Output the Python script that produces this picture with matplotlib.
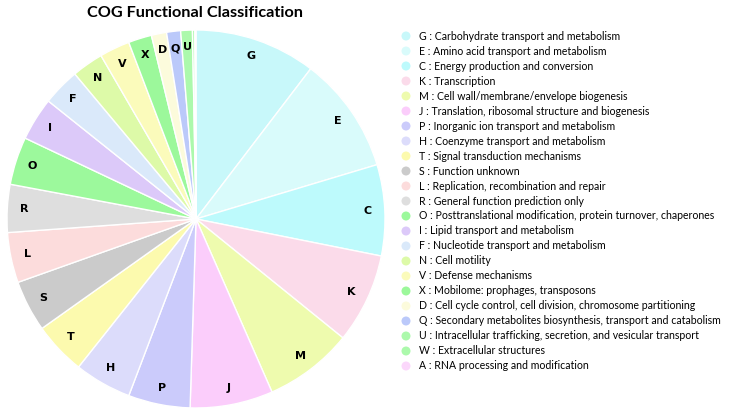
import matplotlib
matplotlib.use("Agg")
import matplotlib.pyplot as plt

# datos (numero de genes por categoria COG)
codes = ["G", "E", "C", "K", "M", "J", "P", "H", "T", "S", "L", "R",
         "O", "I", "F", "N", "V", "X", "D", "Q", "U", "W", "A"]
names = ["Carbohydrate transport and metabolism",
         "Amino acid transport and metabolism",
         "Energy production and conversion",
         "Transcription",
         "Cell wall/membrane/envelope biogenesis",
         "Translation, ribosomal structure and biogenesis",
         "Inorganic ion transport and metabolism",
         "Coenzyme transport and metabolism",
         "Signal transduction mechanisms",
         "Function unknown",
         "Replication, recombination and repair",
         "General function prediction only",
         "Posttranslational modification, protein turnover, chaperones",
         "Lipid transport and metabolism",
         "Nucleotide transport and metabolism",
         "Cell motility",
         "Defense mechanisms",
         "Mobilome: prophages, transposons",
         "Cell cycle control, cell division, chromosome partitioning",
         "Secondary metabolites biosynthesis, transport and catabolism",
         "Intracellular trafficking, secretion, and vesicular transport",
         "Extracellular structures",
         "RNA processing and modification"]
counts = [104, 100, 78, 77, 76, 71, 53, 49, 45, 44, 43, 41,
          41, 37, 32, 27, 26, 20, 13, 12, 10, 2, 1]
colors = ["#c8f8fa", "#d9fbfb", "#bdfafc", "#fbdbea", "#eefbae", "#fbcdfb",
          "#cbcbfb", "#dcdcfb", "#fcfaae", "#cbcbcb", "#fcdcdc", "#dedede",
          "#9cf99c", "#dcc9f9", "#dae9fa", "#ddfaa8", "#fbfbbb", "#9cf89b",
          "#fcfbdc", "#bbc9fa", "#acf9ac", "#acf9ac", "#fbd7fb"]

# etiquetas dentro del pie solo para sectores grandes
pie_labels = [c if n >= 10 else "" for c, n in zip(codes, counts)]

fig = plt.figure(figsize=(7.3, 4.17), dpi=100)
ax = fig.add_axes([0.0096, 0.0216, 0.5178, 0.9065])

wedges, texts = ax.pie(counts, labels=pie_labels, colors=colors,
                       startangle=90, counterclock=False,
                       labeldistance=0.91,
                       wedgeprops=dict(edgecolor="white", linewidth=1))
for t in texts:
    t.set_fontsize(8)
    t.set_fontweight("bold")
    t.set_fontfamily("DejaVu Sans")
    t.set_ha("center")
    t.set_va("center")
ax.set_xlim(-1, 1)
ax.set_ylim(-1, 1)
ax.set_aspect("equal")

fig.text(0.267, 0.97, "COG Functional Classification", ha="center", va="center",
         fontsize=11.7, fontweight="bold", family="Lato")

# leyenda hecha a mano: una fila por categoria, 15 px entre filas
lax = fig.add_axes([400 / 730, 1 - 376 / 417, 330 / 730, 350 / 417])
lax.set_xlim(0, 330)
lax.set_ylim(len(codes) - 1 + 0.667, -0.667)
lax.axis("off")
rows = list(range(len(codes)))
lax.scatter([6] * len(rows), rows, s=42, c=colors, linewidths=0)
for i, (c, n) in enumerate(zip(codes, names)):
    lax.text(19, i, f"{c} : {n}", va="center", ha="left",
             fontsize=7.6, family="Lato")

fig.savefig("out.png", dpi=100)
